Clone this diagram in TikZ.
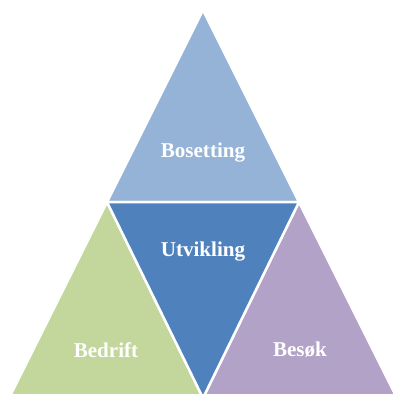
\documentclass[tikz,border=0pt]{standalone}
\usepackage{fontspec}
\setmainfont{Liberation Serif}
\usetikzlibrary{positioning}
\definecolor{topblue}{HTML}{95B3D7}
\definecolor{midblue}{HTML}{4F81BD}
\definecolor{leftgreen}{HTML}{C3D69B}
\definecolor{rightpurple}{HTML}{B3A2C7}
\tikzset{
  part/.style={draw=white, line width=0.5mm, line join=round},
  label/.style={text=white, font=\bfseries\fontsize{12}{14}\selectfont}
}
\begin{document}
\begin{tikzpicture}[x=0.2mm, y=-0.2mm]
    \clip (0,0) rectangle (393,394);
    \fill[white] (0,0) rectangle (393,394);

    \coordinate (apex) at (203,10);
    \coordinate (midL) at (107,202);
    \coordinate (midR) at (299,202);
    \coordinate (baseL) at (9,398);
    \coordinate (baseM) at (203,398);
    \coordinate (baseR) at (397,398);

    \filldraw[part, fill=topblue] (apex) -- (midL) -- (midR) -- cycle;
    \filldraw[part, fill=leftgreen] (midL) -- (baseL) -- (baseM) -- cycle;
    \filldraw[part, fill=rightpurple] (midR) -- (baseM) -- (baseR) -- cycle;
    \filldraw[part, fill=midblue] (midL) -- (midR) -- (baseM) -- cycle;

    \node[label] (bosetting) at (203,153) {Bosetting};
    \node[label] (utvikling) at (203,252) {Utvikling};
    \node[label] (bedrift) at (106,350) {Bedrift};
    \node[label] (besok) at (300,350) {Besøk};
\end{tikzpicture}
\end{document}
